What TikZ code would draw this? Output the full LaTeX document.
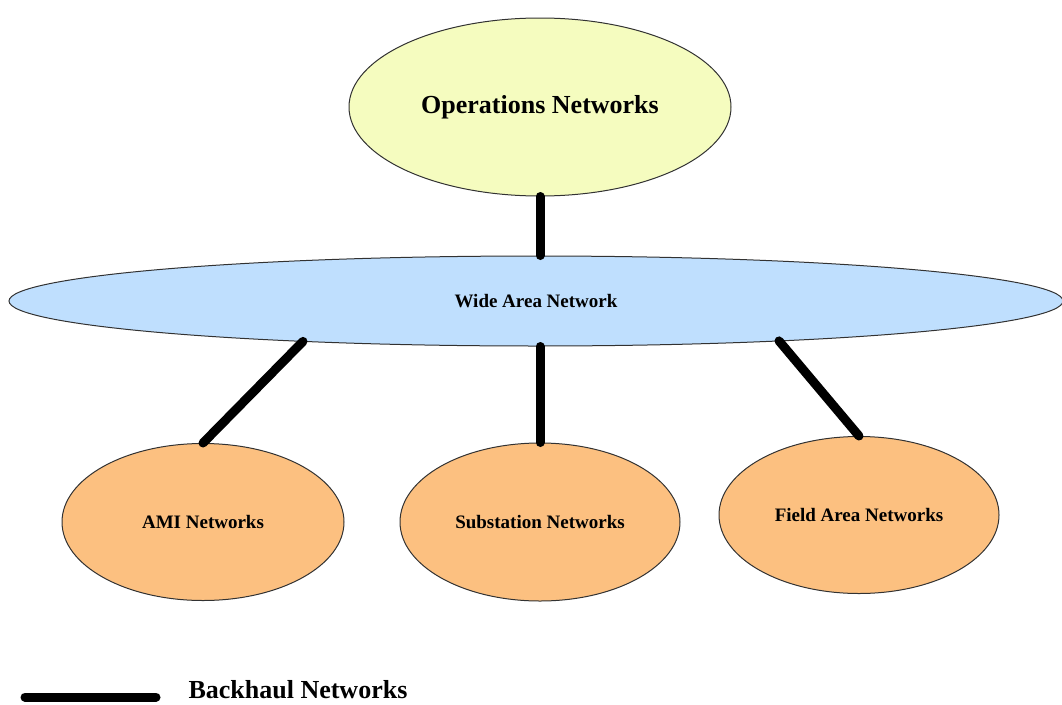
\documentclass[tikz,border=0pt]{standalone}
\usepackage{fontspec}
\setmainfont{Liberation Serif}
\usetikzlibrary{shapes.geometric,calc}

\definecolor{opsfill}{RGB}{245,252,191}
\definecolor{wanfill}{RGB}{191,223,254}
\definecolor{subfill}{RGB}{252,192,128}
\definecolor{rimline}{RGB}{50,50,50}

\tikzset{
  netblob/.style={ellipse, draw=rimline, line width=1pt, inner sep=0pt, font=\bfseries},
  backhaul/.style={line width=9pt, line cap=round, black},
  smalllabel/.style={font=\bfseries\fontsize{19}{22}\selectfont},
}

\begin{document}
\begin{tikzpicture}[x=1pt, y=-1pt]
  \useasboundingbox (0,0) rectangle (1062,704);

  % core and wide area networks
  \node[netblob, fill=opsfill, minimum width=382pt, minimum height=178pt,
        font=\bfseries\fontsize{26}{30}\selectfont] (ops) at (540,107) {Operations Networks};
  \node[netblob, fill=wanfill, minimum width=1054pt, minimum height=90pt,
        smalllabel] (wan) at (536,301) {Wide Area Network};

  % access networks
  \node[netblob, fill=subfill, minimum width=282pt, minimum height=157pt,
        smalllabel] (ami) at (203,522) {AMI Networks};
  \node[netblob, fill=subfill, minimum width=280pt, minimum height=158pt,
        smalllabel] (sub) at (540,522) {Substation Networks};
  \node[netblob, fill=subfill, minimum width=280pt, minimum height=157pt,
        smalllabel] (fan) at (859,515) {Field Area Networks};

  % points on the lower rim of the wide area network
  \coordinate (wanL) at ($(wan.center)+(-233,40.4)$);
  \coordinate (wanR) at ($(wan.center)+(243,39.9)$);

  % backhaul links
  \draw[backhaul] (ops.south) -- (ops.south |- wan.north);
  \draw[backhaul] (wanL) -- (ami.north);
  \draw[backhaul] (sub.north |- wan.south) -- (sub.north);
  \draw[backhaul] (wanR) -- (fan.north);

  % legend
  \coordinate (legA) at (25,697);
  \coordinate (legB) at (156,697);
  \draw[backhaul] (legA) -- (legB);
  \node[anchor=west, font=\bfseries\fontsize{26}{30}\selectfont] (legtext) at (185,690) {Backhaul Networks};
\end{tikzpicture}
\end{document}
